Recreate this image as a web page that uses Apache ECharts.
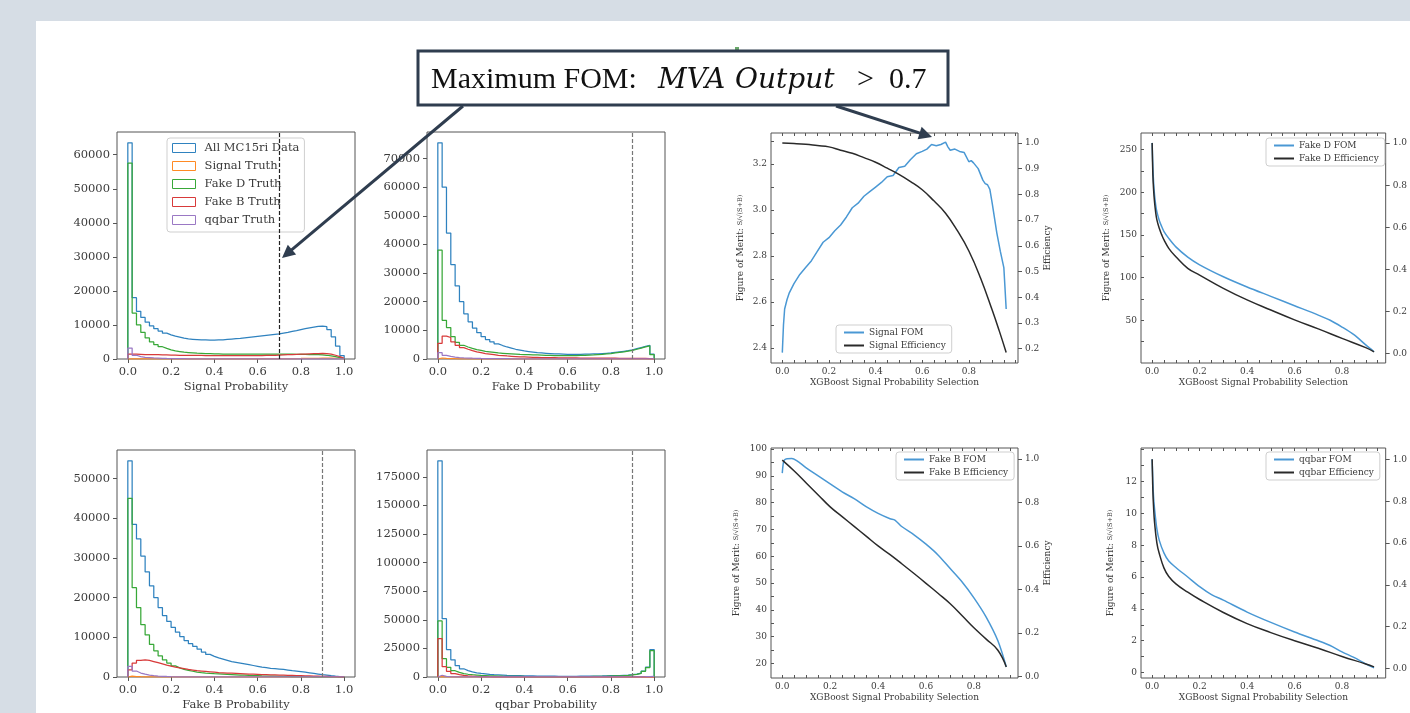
<!DOCTYPE html>
<html>
<head>
<meta charset="utf-8">
<title>MVA output selection - FOM</title>
<script src="https://cdn.jsdelivr.net/npm/echarts@6/dist/echarts.min.js"></script>
<style>
  html, body { margin: 0; padding: 0; background: #d6dde5; }
  #sheet { position: absolute; left: 36px; top: 21px; width: 1374px; height: 692px; background: #fff; }
  #chart { position: absolute; left: 0; top: 0; width: 1410px; height: 713px; }
</style>
</head>
<body>
<div id="sheet"></div>
<div id="chart"></div>
<script>
// ---------------- data ----------------
// histograms: 50 bins of width 0.02 on [0, 1]
const histNames = ['All MC15ri Data', 'Signal Truth', 'Fake D Truth', 'Fake B Truth', 'qqbar Truth'];
const histColors = ['#2f82bf', '#ff8a24', '#38a838', '#d83a3a', '#9a78c4'];

// Signal Probability
const sigProbAll = [63500, 18000, 14000, 12200, 10800, 9700, 8900, 8200, 7600, 7100,
  6700, 6400, 6100, 5900, 5800, 5700, 5600, 5600, 5550, 5550,
  5600, 5650, 5750, 5850, 5950, 6050, 6200, 6350, 6500, 6650,
  6800, 6950, 7100, 7250, 7400, 7600, 7800, 8100, 8350, 8650,
  8900, 9150, 9350, 9550, 9650, 9500, 8600, 6500, 3800, 1000];
const sigProbSignal = [40, 25, 20, 20, 20, 20, 20, 25, 25, 25,
  25, 30, 30, 30, 30, 35, 35, 35, 40, 40,
  40, 45, 45, 50, 50, 55, 60, 60, 65, 70,
  75, 80, 85, 90, 100, 110, 120, 130, 140, 150,
  165, 180, 195, 210, 225, 240, 240, 220, 160, 60];
const sigProbFakeD = [57500, 13500, 10000, 7800, 6200, 5000, 4200, 3600, 3100, 2700,
  2400, 2200, 2000, 1900, 1800, 1700, 1650, 1600, 1550, 1500,
  1500, 1450, 1450, 1400, 1400, 1400, 1400, 1400, 1400, 1400,
  1400, 1400, 1400, 1400, 1400, 1400, 1400, 1400, 1350, 1350,
  1350, 1300, 1300, 1250, 1200, 1100, 900, 700, 400, 100];
const sigProbFakeB = [1400, 1400, 1350, 1300, 1300, 1250, 1250, 1200, 1200, 1150,
  1150, 1100, 1100, 1100, 1050, 1050, 1050, 1000, 1000, 1000,
  1000, 1000, 1000, 1000, 1000, 1000, 1000, 1000, 1000, 1000,
  1000, 1050, 1050, 1100, 1150, 1200, 1250, 1300, 1350, 1400,
  1450, 1500, 1550, 1600, 1650, 1600, 1450, 1100, 700, 200];
const sigProbQQ = [3200, 1100, 700, 500, 400, 300, 250, 200, 150, 120,
  100, 90, 80, 70, 60, 55, 50, 45, 40, 35,
  30, 30, 25, 25, 20, 20, 20, 15, 15, 15,
  15, 10, 10, 10, 10, 10, 10, 10, 10, 10,
  5, 5, 5, 5, 5, 5, 5, 5, 5, 5];

// Fake D Probability
const fdProbAll = [75500, 60000, 44000, 33000, 25500, 20000, 15800, 13000, 10800, 9200,
  7800, 6800, 6000, 5300, 4700, 4200, 3800, 3400, 3100, 2800,
  2600, 2400, 2200, 2100, 2000, 1900, 1800, 1750, 1700, 1650,
  1650, 1650, 1650, 1700, 1700, 1750, 1800, 1900, 2000, 2100,
  2300, 2500, 2700, 2900, 3200, 3600, 4000, 4400, 4800, 1700];
const fdProbSignal = [350, 180, 120, 90, 70, 60, 50, 45, 40, 35,
  30, 30, 25, 25, 20, 20, 20, 20, 15, 15,
  15, 15, 15, 15, 10, 10, 10, 10, 10, 10,
  10, 10, 10, 10, 10, 10, 10, 10, 10, 10,
  10, 10, 10, 10, 10, 10, 10, 10, 10, 5];
const fdProbFakeD = [38000, 13500, 11000, 7800, 5800, 4800, 4200, 3700, 3300, 3000,
  2700, 2500, 2300, 2100, 2000, 1900, 1800, 1700, 1600, 1550,
  1500, 1450, 1400, 1350, 1300, 1250, 1200, 1200, 1200, 1200,
  1200, 1200, 1250, 1300, 1350, 1400, 1500, 1600, 1750, 1900,
  2100, 2300, 2500, 2750, 3000, 3400, 3800, 4200, 4600, 1500];
const fdProbFakeB = [5500, 8000, 7500, 6000, 4800, 4000, 3400, 2900, 2500, 2200,
  1900, 1700, 1500, 1300, 1200, 1050, 950, 850, 750, 700,
  650, 600, 550, 500, 480, 460, 440, 420, 400, 380,
  360, 350, 340, 330, 320, 310, 300, 300, 290, 280,
  270, 260, 250, 240, 230, 220, 200, 180, 150, 80];
const fdProbQQ = [2200, 1300, 900, 650, 500, 400, 330, 280, 240, 200,
  170, 150, 130, 110, 100, 90, 80, 70, 60, 55,
  50, 45, 40, 40, 35, 35, 30, 30, 30, 30,
  25, 25, 25, 25, 25, 20, 20, 20, 20, 20,
  20, 20, 20, 20, 20, 20, 20, 20, 20, 10];

// Fake B Probability
const fbProbAll = [54500, 38500, 34800, 30500, 26500, 23000, 20000, 17500, 15500, 14000,
  12500, 11300, 10200, 9200, 8400, 7700, 7000, 6300, 5700, 5200,
  4800, 4500, 4200, 3900, 3700, 3500, 3300, 3100, 2900, 2700,
  2500, 2350, 2200, 2100, 2000, 1900, 1750, 1600, 1500, 1350,
  1200, 1050, 900, 750, 600, 500, 350, 220, 120, 50];
const fbProbSignal = [200, 120, 80, 60, 50, 40, 35, 30, 25, 20,
  20, 15, 15, 15, 10, 10, 10, 10, 10, 10,
  10, 10, 10, 10, 5, 5, 5, 5, 5, 5,
  5, 5, 5, 5, 5, 5, 5, 5, 5, 5,
  5, 5, 5, 5, 5, 5, 5, 5, 5, 5];
const fbProbFakeD = [45000, 22500, 17500, 13200, 10600, 8200, 6600, 5300, 4300, 3500,
  2800, 2300, 1900, 1650, 1450, 1250, 1100, 1000, 920, 850,
  800, 740, 680, 620, 560, 500, 450, 400, 360, 320,
  280, 250, 220, 200, 180, 160, 140, 120, 100, 90,
  80, 70, 60, 50, 45, 40, 30, 25, 20, 10];
const fbProbFakeB = [1800, 3500, 4200, 4300, 4200, 3900, 3600, 3300, 3000, 2750,
  2500, 2300, 2100, 1900, 1750, 1600, 1500, 1400, 1300, 1200,
  1100, 1050, 1000, 950, 900, 850, 800, 750, 700, 650,
  600, 570, 540, 510, 480, 450, 420, 390, 360, 330,
  300, 270, 240, 210, 180, 150, 120, 90, 60, 30];
const fbProbQQ = [2700, 1500, 1000, 700, 500, 350, 250, 180, 130, 90,
  60, 40, 30, 20, 15, 10, 10, 5, 5, 5,
  5, 5, 5, 5, 5, 5, 5, 5, 5, 5,
  5, 5, 5, 5, 5, 5, 5, 5, 5, 5,
  5, 5, 5, 5, 5, 5, 5, 5, 5, 5];

// qqbar Probability
const qqProbAll = [189000, 51000, 24000, 15000, 10000, 7200, 5600, 4500, 3700, 3100,
  2700, 2300, 2000, 1800, 1600, 1400, 1300, 1200, 1100, 1000,
  950, 900, 850, 800, 750, 700, 700, 650, 650, 650,
  650, 650, 700, 700, 750, 800, 850, 900, 1000, 1100,
  1200, 1300, 1500, 1700, 2000, 2500, 3300, 5200, 8600, 24000];
const qqProbSignal = [300, 120, 80, 60, 40, 30, 25, 20, 15, 15,
  10, 10, 10, 10, 10, 5, 5, 5, 5, 5,
  5, 5, 5, 5, 5, 5, 5, 5, 5, 5,
  5, 5, 5, 5, 5, 5, 5, 5, 5, 5,
  5, 5, 5, 5, 5, 5, 5, 5, 5, 5];
const qqProbFakeD = [49000, 16000, 8500, 5500, 4000, 3000, 2400, 2000, 1700, 1400,
  1200, 1000, 900, 800, 700, 650, 600, 550, 500, 450,
  420, 400, 380, 360, 350, 340, 330, 330, 330, 340,
  350, 360, 380, 400, 430, 470, 520, 580, 660, 760,
  900, 1050, 1250, 1500, 1800, 2300, 3100, 5000, 8200, 23000];
const qqProbFakeB = [33500, 9000, 5000, 3000, 2000, 1400, 1000, 750, 550, 420,
  330, 260, 210, 170, 140, 120, 100, 90, 80, 70,
  60, 55, 50, 45, 40, 40, 35, 35, 30, 30,
  30, 30, 30, 30, 30, 30, 30, 30, 30, 30,
  30, 30, 30, 30, 35, 40, 50, 60, 80, 150];
const qqProbQQ = [1500, 600, 300, 200, 150, 100, 80, 70, 60, 50,
  40, 40, 35, 35, 30, 30, 30, 25, 25, 25,
  25, 25, 25, 25, 25, 25, 25, 25, 25, 25,
  25, 25, 25, 25, 30, 30, 30, 35, 40, 45,
  50, 60, 70, 80, 100, 130, 170, 230, 320, 500];

// selection cuts drawn as dashed lines
const cutSignal = 0.7;
const cutOther = 0.9;

// FOM / efficiency scans vs. the XGBoost signal probability cut
const sigCutX = [0, 0.005, 0.01, 0.02, 0.03, 0.05, 0.075, 0.1, 0.125, 0.15, 0.175, 0.2, 0.225, 0.25, 0.275,
  0.3, 0.325, 0.35, 0.375, 0.4, 0.425, 0.45, 0.475, 0.5, 0.525, 0.55, 0.575, 0.6, 0.62, 0.64,
  0.66, 0.68, 0.7, 0.71, 0.72, 0.74, 0.76, 0.78, 0.8, 0.81, 0.82, 0.84, 0.86, 0.87, 0.88,
  0.89, 0.9, 0.92, 0.935, 0.95, 0.96];
const sigFom = [2.38, 2.50, 2.57, 2.61, 2.64, 2.68, 2.72, 2.75, 2.78, 2.82, 2.86, 2.88, 2.91, 2.935, 2.97,
  3.01, 3.03, 3.06, 3.08, 3.10, 3.12, 3.145, 3.15, 3.185, 3.19, 3.22, 3.245, 3.255, 3.265, 3.285,
  3.28, 3.285, 3.295, 3.275, 3.26, 3.265, 3.255, 3.25, 3.21, 3.215, 3.205, 3.18, 3.13, 3.115, 3.11,
  3.09, 3.03, 2.90, 2.82, 2.75, 2.57];
const sigEffX = [0, 0.05, 0.1, 0.15, 0.2, 0.25, 0.3, 0.35, 0.4, 0.45, 0.5, 0.55, 0.6, 0.65, 0.7, 0.75, 0.8, 0.85, 0.9, 0.93, 0.96];
const sigEff = [1.0, 0.998, 0.995, 0.99, 0.985, 0.972, 0.96, 0.943, 0.925, 0.902, 0.878, 0.85, 0.818, 0.775, 0.727, 0.66, 0.58, 0.475, 0.35, 0.27, 0.185];

const fdCutX = [0, 0.003, 0.006, 0.01, 0.015, 0.02, 0.03, 0.04, 0.05, 0.07, 0.1, 0.15, 0.2, 0.3, 0.4, 0.5, 0.6, 0.7, 0.75, 0.8, 0.85, 0.9, 0.935];
const fdFom = [258, 230, 212, 197, 185, 177, 167, 160, 154, 146, 136, 124, 115, 101, 89, 78, 67, 56, 50, 42, 33, 21, 13];
const fdEffX = [0, 0.003, 0.006, 0.01, 0.015, 0.02, 0.03, 0.04, 0.05, 0.07, 0.1, 0.15, 0.2, 0.3, 0.4, 0.5, 0.6, 0.7, 0.8, 0.9, 0.935];
const fdEff = [1.0, 0.85, 0.78, 0.72, 0.67, 0.635, 0.595, 0.565, 0.54, 0.5, 0.46, 0.405, 0.373, 0.31, 0.255, 0.207, 0.16, 0.117, 0.072, 0.028, 0.008];

const fbCutX = [0, 0.005, 0.01, 0.02, 0.04, 0.06, 0.1, 0.15, 0.2, 0.25, 0.3, 0.35, 0.4, 0.45, 0.47, 0.5, 0.55, 0.6, 0.65, 0.7, 0.75, 0.8, 0.85, 0.9, 0.935];
const fbFom = [91, 95, 96, 96.4, 96.5, 95.7, 93, 90, 87, 84, 81.5, 78.5, 76, 74, 73.5, 71, 68, 64.5, 60.5, 55.5, 50.5, 44.5, 37.5, 28.5, 18.8];
const fbEffX = [0, 0.05, 0.1, 0.15, 0.2, 0.25, 0.3, 0.35, 0.4, 0.45, 0.5, 0.55, 0.6, 0.65, 0.7, 0.75, 0.8, 0.85, 0.9, 0.935];
const fbEff = [0.995, 0.945, 0.89, 0.835, 0.78, 0.735, 0.69, 0.645, 0.6, 0.56, 0.517, 0.473, 0.428, 0.382, 0.335, 0.28, 0.223, 0.172, 0.12, 0.043];

const qqCutX = [0, 0.003, 0.006, 0.01, 0.02, 0.03, 0.05, 0.07, 0.1, 0.15, 0.2, 0.25, 0.3, 0.4, 0.5, 0.6, 0.7, 0.75, 0.8, 0.85, 0.9, 0.935];
const qqFom = [13.4, 12.0, 11.0, 10.3, 9.0, 8.3, 7.5, 7.0, 6.6, 6.0, 5.4, 4.9, 4.55, 3.8, 3.15, 2.55, 2.0, 1.7, 1.3, 0.95, 0.55, 0.3];
const qqEffX = [0, 0.003, 0.006, 0.01, 0.02, 0.03, 0.05, 0.07, 0.1, 0.15, 0.2, 0.3, 0.4, 0.5, 0.6, 0.7, 0.8, 0.9, 0.935];
const qqEff = [1.0, 0.85, 0.77, 0.7, 0.6, 0.55, 0.48, 0.44, 0.405, 0.365, 0.33, 0.268, 0.215, 0.172, 0.133, 0.097, 0.058, 0.022, 0.008];

// tick labels
const histXLabels = [0, 0.2, 0.4, 0.6, 0.8, 1.0];
const sigProbYLabels = [0, 10000, 20000, 30000, 40000, 50000, 60000];
const fdProbYLabels = [0, 10000, 20000, 30000, 40000, 50000, 60000, 70000];
const fbProbYLabels = [0, 10000, 20000, 30000, 40000, 50000];
const qqProbYLabels = [0, 25000, 50000, 75000, 100000, 125000, 150000, 175000];
const fomXLabels = [0, 0.2, 0.4, 0.6, 0.8];
const sigFomLabels = [2.4, 2.6, 2.8, 3.0, 3.2];
const sigEffLabels = [0.2, 0.3, 0.4, 0.5, 0.6, 0.7, 0.8, 0.9, 1.0];
const fdFomLabels = [50, 100, 150, 200, 250];
const fbFomLabels = [20, 30, 40, 50, 60, 70, 80, 90, 100];
const qqFomLabels = [0, 2, 4, 6, 8, 10, 12];
const effLabels = [0, 0.2, 0.4, 0.6, 0.8, 1.0];

// ---------------- helpers ----------------
const FONT = 'DejaVu Serif';
const FRAME = '#555555';
const INK = '#3a3a3a';
const FOM_BLUE = '#4a98d4';
const EFF_BLACK = '#2a2a2a';
const CALLOUT = '#2f3d4f';

const BIN_W = 0.02;
const binEdges = [];
for (let i = 0; i <= 50; i++) binEdges.push(+(i * BIN_W).toFixed(2));

// tick positions only (not data)
function steps(a, b, d) {
    const out = [];
    for (let v = a; v <= b + d / 1e6; v += d) out.push(+v.toFixed(6));
    return out;
}

// outline of a step histogram, like matplotlib histtype='step'
function stepData(counts) {
    const pts = [[binEdges[0], 0]];
    counts.forEach((c, i) => pts.push([binEdges[i], c]));
    pts.push([binEdges[counts.length], counts[counts.length - 1]]);
    pts.push([binEdges[counts.length], 0]);
    return pts;
}

const grid = [], xAxis = [], yAxis = [], series = [], legend = [];

function frameGrid(box) {
    grid.push({
        left: box[0], top: box[1], width: box[2], height: box[3],
        show: true, borderColor: FRAME, borderWidth: 1, backgroundColor: '#fff'
    });
    return grid.length - 1;
}

const tickText = {fontFamily: FONT, color: INK};
const noLine = {show: false, onZero: false};

function histPanel(box, counts, title, yLabels, cut, cutColor) {
    const g = frameGrid(box);
    const xi = xAxis.length;
    xAxis.push({
        type: 'value', gridIndex: g, min: -0.05, max: 1.05,
        name: title, nameLocation: 'middle', nameGap: 22,
        nameTextStyle: {...tickText, fontSize: 11.5},
        axisLine: noLine,
        axisTick: {show: true, length: 4, customValues: histXLabels, lineStyle: {color: FRAME}},
        axisLabel: {customValues: histXLabels, formatter: v => v.toFixed(1), ...tickText, fontSize: 11.5, margin: 7},
        splitLine: {show: false}
    });
    const yi = yAxis.length;
    const yMax = Math.max(...counts[0]) * 1.05;
    yAxis.push({
        type: 'value', gridIndex: g, min: 0, max: yMax,
        axisLine: noLine,
        axisTick: {show: true, length: 4, customValues: yLabels, lineStyle: {color: FRAME}},
        axisLabel: {customValues: yLabels, formatter: v => String(v), ...tickText, fontSize: 11.5, margin: 7},
        splitLine: {show: false}
    });
    counts.forEach((c, k) => series.push({
        type: 'line', name: histNames[k], xAxisIndex: xi, yAxisIndex: yi,
        step: 'end', data: stepData(c), symbol: 'none', silent: true,
        lineStyle: {color: histColors[k], width: 1.25}, itemStyle: {color: histColors[k]}
    }));
    // 切割线
    series[series.length - 1].markLine = {
        silent: true, symbol: ['none', 'none'], label: {show: false},
        lineStyle: {type: [4, 2], color: cutColor, width: 1.2},
        data: [{xAxis: cut}]
    };
}

function fomPanel(p) {
    const g = frameGrid(p.box);
    const xb = xAxis.length;
    const xTicks = steps(0, 1.0, 0.05).filter(v => v < p.xMax);
    const base = {type: 'value', gridIndex: g, min: p.xMin, max: p.xMax, axisLine: noLine, splitLine: {show: false}};
    xAxis.push({
        ...base, position: 'bottom',
        name: 'XGBoost Signal Probability Selection', nameLocation: 'middle', nameGap: 15,
        nameTextStyle: {...tickText, fontSize: 9},
        axisTick: {show: true, inside: true, length: 3, customValues: xTicks, lineStyle: {color: FRAME}},
        axisLabel: {customValues: fomXLabels, formatter: v => v.toFixed(1), ...tickText, fontSize: 9, margin: 4}
    });
    xAxis.push({
        ...base, position: 'top',
        axisTick: {show: true, inside: true, length: 3, customValues: xTicks, lineStyle: {color: FRAME}},
        axisLabel: {show: false}
    });
    const yl = yAxis.length;
    yAxis.push({
        type: 'value', gridIndex: g, position: 'left', min: p.left.min, max: p.left.max,
        name: '{a|Figure of Merit: }{b|S/\u221A(S+B)}', nameLocation: 'middle', nameGap: p.left.gap, nameRotate: 90,
        nameTextStyle: {...tickText, fontSize: 9, rich: {a: {...tickText, fontSize: 9}, b: {...tickText, fontSize: 6.5}}},
        axisLine: noLine,
        axisTick: {show: true, inside: true, length: 3, customValues: p.left.ticks, lineStyle: {color: FRAME}},
        axisLabel: {customValues: p.left.labels, formatter: p.left.fmt, ...tickText, fontSize: 9, margin: 4},
        splitLine: {show: false}
    });
    yAxis.push({
        type: 'value', gridIndex: g, position: 'right', min: p.right.min, max: p.right.max,
        name: p.right.name, nameLocation: 'middle', nameGap: 24, nameRotate: 90,
        nameTextStyle: {...tickText, fontSize: 9},
        axisLine: noLine,
        axisTick: {show: true, inside: false, length: 4, customValues: p.right.labels, lineStyle: {color: FRAME}},
        axisLabel: {customValues: p.right.labels, formatter: v => v.toFixed(1), ...tickText, fontSize: 9, margin: 7},
        splitLine: {show: false}
    });
    series.push({
        type: 'line', name: p.fomName, xAxisIndex: xb, yAxisIndex: yl,
        data: p.fomX.map((x, i) => [x, p.fomY[i]]), smooth: p.smooth,
        symbol: 'none', silent: true,
        lineStyle: {color: FOM_BLUE, width: 1.5}, itemStyle: {color: FOM_BLUE}
    });
    series.push({
        type: 'line', name: p.effName, xAxisIndex: xb, yAxisIndex: yl + 1,
        data: p.effX.map((x, i) => [x, p.effY[i]]), smooth: 0.45,
        symbol: 'none', silent: true,
        lineStyle: {color: EFF_BLACK, width: 1.5}, itemStyle: {color: EFF_BLACK}
    });
    legend.push({
        left: p.legend[0], top: p.legend[1], orient: 'vertical', selectedMode: false,
        padding: [3, 6, 3, 8], itemGap: 4, itemWidth: 20, itemHeight: 2,
        borderColor: '#cfcfcf', borderWidth: 1, borderRadius: 3, backgroundColor: 'rgba(255,255,255,0.8)',
        textStyle: {...tickText, fontSize: 9},
        data: [
            {name: p.fomName, icon: 'path://M0,0H20V2H0Z', itemStyle: {color: FOM_BLUE, borderWidth: 0}},
            {name: p.effName, icon: 'path://M0,0H20V2H0Z', itemStyle: {color: EFF_BLACK, borderWidth: 0}}
        ]
    });
}

// ---------------- panels ----------------
histPanel([117, 132, 238, 227], [sigProbAll, sigProbSignal, sigProbFakeD, sigProbFakeB, sigProbQQ],
    'Signal Probability', sigProbYLabels, cutSignal, '#222222');
histPanel([427, 132, 238, 227], [fdProbAll, fdProbSignal, fdProbFakeD, fdProbFakeB, fdProbQQ],
    'Fake D Probability', fdProbYLabels, cutOther, '#777777');
histPanel([117, 450, 238, 227], [fbProbAll, fbProbSignal, fbProbFakeD, fbProbFakeB, fbProbQQ],
    'Fake B Probability', fbProbYLabels, cutOther, '#777777');
histPanel([427, 450, 238, 227], [qqProbAll, qqProbSignal, qqProbFakeD, qqProbFakeB, qqProbQQ],
    'qqbar Probability', qqProbYLabels, cutOther, '#777777');

// legend of the first histogram panel
legend.push({
    left: 167, top: 138, orient: 'vertical', selectedMode: false,
    padding: [4, 5, 6, 5], itemGap: 6, itemWidth: 23, itemHeight: 9,
    borderColor: '#cfcfcf', borderWidth: 1, borderRadius: 3, backgroundColor: 'rgba(255,255,255,0.6)',
    textStyle: {...tickText, fontSize: 11.5, padding: [0, 0, 0, 4]},
    data: histNames.map((n, k) => ({
        name: n, icon: 'rect',
        itemStyle: {color: '#ffffff', borderColor: histColors[k], borderWidth: 1}
    }))
});

fomPanel({
    box: [771, 133, 247, 230], xMin: -0.0485, xMax: 1.0107,
    fomName: 'Signal FOM', fomX: sigCutX, fomY: sigFom, smooth: false,
    effName: 'Signal Efficiency', effX: sigEffX, effY: sigEff,
    left: {min: 2.335, max: 3.335, labels: sigFomLabels, ticks: steps(2.4, 3.3, 0.1), fmt: v => v.toFixed(1), gap: 26},
    right: {min: 0.144, max: 1.039, labels: sigEffLabels, name: 'Efficiency'},
    legend: [836, 325]
});
fomPanel({
    box: [1141, 133, 247, 230], xMin: -0.047, xMax: 0.984,
    fomName: 'Fake D FOM', fomX: fdCutX, fomY: fdFom, smooth: 0.3,
    effName: 'Fake D Efficiency', effX: fdEffX, effY: fdEff,
    left: {min: -0.2, max: 269.6, labels: fdFomLabels, ticks: steps(25, 250, 25), fmt: v => String(v), gap: 30},
    right: {min: -0.045, max: 1.048, labels: effLabels, name: ''},
    legend: [1266, 138]
});
fomPanel({
    box: [771, 448, 247, 230], xMin: -0.047, xMax: 0.984,
    fomName: 'Fake B FOM', fomX: fbCutX, fomY: fbFom, smooth: 0.3,
    effName: 'Fake B Efficiency', effX: fbEffX, effY: fbEff,
    left: {min: 14.6, max: 100.37, labels: fbFomLabels, ticks: steps(20, 100, 5), fmt: v => String(v), gap: 30},
    right: {min: -0.008, max: 1.051, labels: effLabels, name: 'Efficiency'},
    legend: [896, 452]
});
fomPanel({
    box: [1141, 448, 247, 230], xMin: -0.047, xMax: 0.984,
    fomName: 'qqbar FOM', fomX: qqCutX, fomY: qqFom, smooth: 0.3,
    effName: 'qqbar Efficiency', effX: qqEffX, effY: qqEff,
    left: {min: -0.34, max: 14.1, labels: qqFomLabels, ticks: steps(0, 14, 1), fmt: v => String(v), gap: 26},
    right: {min: -0.045, max: 1.054, labels: effLabels, name: ''},
    legend: [1266, 452]
});

// ---------------- callout ----------------
function arrow(x1, y1, x2, y2) {
    const dx = x2 - x1, dy = y2 - y1, len = Math.hypot(dx, dy);
    const ux = dx / len, uy = dy / len, hl = 13, hw = 6.5;
    const bx = x2 - ux * hl, by = y2 - uy * hl;
    return [
        {type: 'line', z: 100, shape: {x1: x1, y1: y1, x2: bx + ux * 2, y2: by + uy * 2},
            style: {stroke: CALLOUT, lineWidth: 3}},
        {type: 'polygon', z: 100, shape: {points: [[x2, y2], [bx - uy * hw, by + ux * hw], [bx + uy * hw, by - ux * hw]]},
            style: {fill: CALLOUT}}
    ];
}

const calloutFont = {fontFamily: 'Liberation Serif', fontSize: 30, fill: '#111111'};
const mathFont = {fontFamily: 'DejaVu Serif', fontSize: 28, fontStyle: 'italic', fill: '#111111'};

const graphic = [
    {type: 'rect', z: 99, shape: {x: 735, y: 47, width: 4, height: 5}, style: {fill: '#6aa86a'}},
    ...arrow(463, 106, 282, 258),
    ...arrow(836, 106, 932, 137),
    {type: 'rect', z: 100, shape: {x: 418, y: 51, width: 530, height: 54},
        style: {fill: '#ffffff', stroke: CALLOUT, lineWidth: 3}},
    {type: 'text', z: 101, x: 431, y: 80, style: {text: 'Maximum FOM:', ...calloutFont, verticalAlign: 'middle'}},
    {type: 'text', z: 101, x: 658, y: 81, style: {text: 'MVA', ...mathFont, verticalAlign: 'middle'}},
    {type: 'text', z: 101, x: 735, y: 81, style: {text: 'Output', ...mathFont, verticalAlign: 'middle'}},
    {type: 'text', z: 101, x: 857, y: 80, style: {text: '>', ...calloutFont, verticalAlign: 'middle'}},
    {type: 'text', z: 101, x: 889, y: 80, style: {text: '0.7', ...calloutFont, verticalAlign: 'middle'}}
];

const chart = echarts.init(document.getElementById('chart'), null, {renderer: 'canvas'});
chart.setOption({
    animation: false,
    backgroundColor: 'transparent',
    grid: grid, xAxis: xAxis, yAxis: yAxis, series: series, legend: legend, graphic: graphic
});
</script>
</body>
</html>
